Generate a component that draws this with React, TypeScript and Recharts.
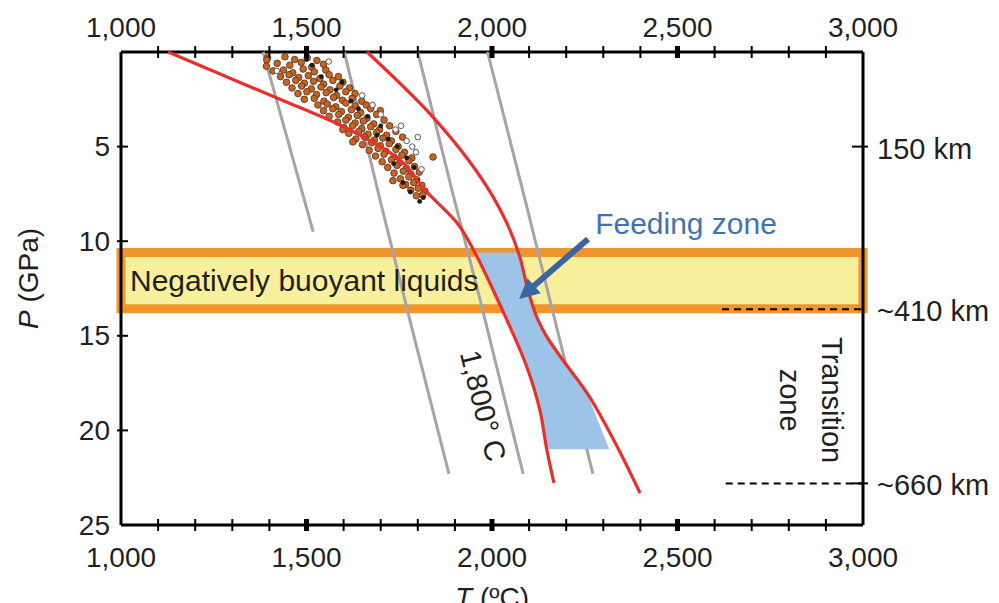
import React from "react"
import { ComposedChart, ReferenceArea, Scatter, XAxis, YAxis } from "recharts"

// axis ticks
const tTicks = [1000, 1100, 1200, 1300, 1400, 1500, 1600, 1700, 1800, 1900, 2000, 2100, 2200, 2300, 2400, 2500, 2600, 2700, 2800, 2900, 3000]
const pTicks = [5, 10, 15, 20, 25]
const depthTicks = [5, 13.6, 22.8]
const depthLabels = ["150 km", "~410 km", "~660 km"]

// melting curves [T, P]
const solidusLeft = [
  [1127, 0], [1420, 2.43], [1590, 3.86], [1752, 5.71], [1819, 7.29], [1906, 9.04],
  [1960, 10.83], [2003, 12.58], [2040, 14.16], [2094, 16.65], [2129, 18.92], [2148, 21.04], [2167, 22.78],
]
const solidusRight = [
  [1663, 0], [1841, 3.44], [2003, 7.66], [2040, 9.04], [2075, 10.83], [2097, 12.58], [2124, 14.16],
  [2148, 15.06], [2191, 16.28], [2256, 18.02], [2318, 20.14], [2399, 23.31],
]

// adiabats
const adiabat1 = [[1383, 0], [1450, 4.7], [1518, 9.5]]
const adiabat2 = [[1602, 0], [1698, 7.8], [1779, 14.2], [1884, 22.3]]
const adiabat3 = [[1800, 0], [1892, 7.3], [1968, 13.1], [2084, 22.3]]
const adiabat4 = [[1988, 0], [2089, 7.8], [2156, 13.1], [2272, 22.3]]

const feedingZone = [
  [1955, 10.6], [2003, 12.58], [2040, 14.16], [2094, 16.65], [2129, 18.92], [2146, 21.0],
  [2316, 21.0], [2256, 18.02], [2191, 16.28], [2148, 15.06], [2124, 14.16], [2097, 12.58], [2078, 10.6],
]

const orangeDots = [
  [1395, 0.3], [1442, 0.25], [1468, 0.4], [1502, 0.3], [1528, 0.45], [1393, 0.42],
  [1392, 0.75], [1421, 0.6], [1455, 0.7], [1486, 0.55], [1514, 0.8], [1546, 0.65],
  [1410, 1.0], [1438, 0.95], [1463, 1.1], [1491, 0.9], [1521, 1.05], [1552, 0.95],
  [1430, 1.3], [1453, 1.2], [1479, 1.35], [1505, 1.25], [1536, 1.4], [1561, 1.2], [1586, 1.3],
  [1446, 1.6], [1471, 1.5], [1494, 1.65], [1519, 1.55], [1546, 1.7], [1571, 1.5], [1598, 1.6],
  [1461, 1.9], [1487, 1.8], [1513, 1.95], [1539, 1.85], [1563, 2.0], [1590, 1.8], [1616, 1.9],
  [1477, 2.2], [1501, 2.1], [1527, 2.25], [1553, 2.15], [1581, 2.3], [1606, 2.1], [1631, 2.2],
  [1494, 2.5], [1521, 2.45], [1547, 2.6], [1573, 2.4], [1597, 2.55], [1623, 2.45], [1649, 2.6],
  [1531, 2.8], [1556, 2.75], [1579, 2.9], [1606, 2.7], [1631, 2.85], [1661, 2.8],
  [1546, 3.1], [1571, 3.0], [1594, 3.15], [1621, 3.05], [1646, 3.2], [1673, 3.0], [1699, 3.1],
  [1561, 3.4], [1587, 3.3], [1613, 3.45], [1637, 3.35], [1663, 3.5], [1689, 3.3],
  [1584, 3.7], [1606, 3.6], [1631, 3.75], [1654, 3.65], [1681, 3.8], [1709, 3.6],
  [1601, 4.0], [1624, 3.9], [1649, 4.05], [1673, 3.95], [1697, 4.1], [1724, 3.9],
  [1614, 4.3], [1641, 4.2], [1666, 4.35], [1689, 4.25], [1716, 4.4], [1741, 4.2],
  [1633, 4.6], [1657, 4.5], [1683, 4.65], [1706, 4.55], [1729, 4.7], [1759, 4.5],
  [1651, 4.9], [1676, 4.8], [1699, 4.95], [1723, 4.85], [1747, 5.0],
  [1669, 5.2], [1693, 5.1], [1714, 5.25], [1741, 5.15], [1764, 5.3],
  [1686, 5.5], [1709, 5.4], [1736, 5.55], [1757, 5.45], [1784, 5.6],
  [1704, 5.8], [1729, 5.7], [1751, 5.85], [1776, 5.75],
  [1719, 6.1], [1744, 6.0], [1769, 6.15], [1791, 6.05],
  [1736, 6.4], [1761, 6.3], [1781, 6.45], [1804, 6.35],
  [1753, 6.7], [1776, 6.6], [1797, 6.75],
  [1767, 7.0], [1789, 6.9], [1811, 7.05],
  [1781, 7.3], [1801, 7.2], [1819, 7.35],
  [1796, 7.6], [1813, 7.55],
  [1625, 4.75], [1598, 4.1], [1733, 6.8], [1760, 7.05], [1841, 5.55],
]
const blackDots = [
  [1500, 0.4], [1540, 1.3], [1580, 2.0], [1620, 2.6], [1665, 3.4], [1700, 3.9], [1720, 4.6],
  [1745, 5.0], [1770, 5.6], [1790, 6.1], [1800, 6.8], [1815, 7.7], [1760, 6.9], [1690, 4.4],
  [1640, 3.0], [1596, 1.6], [1515, 0.7], [1735, 5.9], [1780, 7.4], [1805, 7.9],
]
const openDots = [
  [1420, 1.0], [1560, 0.5], [1650, 2.3], [1700, 3.3], [1740, 4.1], [1770, 4.7],
  [1795, 5.3], [1810, 6.2], [1785, 5.0], [1678, 2.8], [1755, 3.9], [1800, 4.5],
]

const band = { pTop: 10.6, pBottom: 13.57 }
const discont410 = [[2620, 13.6], [3000, 13.6]]
const discont660 = [[2630, 22.8], [3000, 22.8]]
const feedingArrow = [[2259, 9.88], [2073, 13.05]]
const feedingLabel = [{ t: 2523, p: 9.04, text: "Feeding zone" }]
const adiabatLabel = [{ t: 1976, p: 18.7, text: "1,800° C" }]
const transitionLabel = [{ t: 2860, p: 18.4, text: "Transition", text2: "zone" }]

const toPts = (arr: number[][]) => arr.map(([t, p]) => ({ t, p }))

const FONT = "'Liberation Sans', Arial, Helvetica, sans-serif"
const INK = "#231f20"
const RED = "#e8312a"
const GRAY = "#a5a5a5"

const noShape = () => <g />

const XTick = (side: "top" | "bottom") => (props: any) => {
  const { x, y, payload } = props
  const v = payload.value
  const major = v % 500 === 0
  const edge = v === 1000 || v === 3000
  return (
    <g>
      {!edge && <line x1={x} x2={x} y1={y - 6} y2={y + 6} stroke="#000" strokeWidth={major ? 5 : 2} />}
      {major && (
        <text x={x} y={side === "top" ? y - 25 : y + 32} textAnchor="middle" dominantBaseline="central" fontSize={28} fill={INK} fontFamily={FONT}>
          {v.toLocaleString("en-US")}
        </text>
      )}
    </g>
  )
}

const LeftTick = (props: any) => {
  const { x, y, payload } = props
  return (
    <g>
      {payload.value !== 25 && <line x1={x - 4} x2={x + 7} y1={y} y2={y} stroke="#000" strokeWidth={2} />}
      <text x={x - 11} y={y} textAnchor="end" dominantBaseline="central" fontSize={28} fill={INK} fontFamily={FONT}>
        {payload.value}
      </text>
    </g>
  )
}

const RightTick = (props: any) => {
  const { x, y, payload } = props
  const i = depthTicks.indexOf(payload.value)
  return (
    <g>
      {i !== 1 && <line x1={x - 11} x2={x + 5} y1={y} y2={y} stroke="#000" strokeWidth={2} />}
      <text x={x + 14} y={y + 2} textAnchor="start" dominantBaseline="central" fontSize={29} fill={INK} fontFamily={FONT}>
        {depthLabels[i]}
      </text>
    </g>
  )
}

const polygonLine = (props: any) => (
  <polygon points={props.points.map((p: any) => `${p.x},${p.y}`).join(" ")} fill="#9dc3e8" stroke="none" />
)

const arrowLine = (props: any) => {
  const [a, b] = props.points
  const dx = b.x - a.x
  const dy = b.y - a.y
  const len = Math.hypot(dx, dy)
  const ux = dx / len
  const uy = dy / len
  const headLen = 20
  const headW = 10
  const bx = b.x - ux * headLen
  const by = b.y - uy * headLen
  return (
    <g>
      <line x1={a.x} y1={a.y} x2={bx + ux * 2} y2={by + uy * 2} stroke="#3b64a0" strokeWidth={6} />
      <polygon
        points={`${b.x},${b.y} ${bx - uy * headW},${by + ux * headW} ${bx + uy * headW},${by - ux * headW}`}
        fill="#3b64a0"
      />
    </g>
  )
}

const feedingText = (props: any) => (
  <text x={props.cx} y={props.cy} textAnchor="middle" dominantBaseline="central" fontSize={30} fill="#4372b0" fontFamily={FONT}>
    {props.payload.text}
  </text>
)

const adiabatText = (props: any) => (
  <text
    x={props.cx}
    y={props.cy}
    transform={`rotate(76 ${props.cx} ${props.cy})`}
    textAnchor="middle"
    dominantBaseline="central"
    fontSize={29}
    fill={INK}
    fontFamily={FONT}
  >
    {props.payload.text}
  </text>
)

const transitionText = (props: any) => (
  <g transform={`rotate(90 ${props.cx} ${props.cy})`}>
    <text x={props.cx} y={props.cy - 21} textAnchor="middle" dominantBaseline="central" fontSize={29} fill={INK} fontFamily={FONT}>
      {props.payload.text}
    </text>
    <text x={props.cx} y={props.cy + 21} textAnchor="middle" dominantBaseline="central" fontSize={29} fill={INK} fontFamily={FONT}>
      {props.payload.text2}
    </text>
  </g>
)

const dashLine = { stroke: "#000", strokeWidth: 2, strokeDasharray: "7 5" }
const axisLine = { stroke: "#000", strokeWidth: 3 }
const ids = { xAxisId: "bottom", yAxisId: "left" }
const ids2 = { xAxisId: "top", yAxisId: "right" }

export default function App() {
  return (
    <div style={{ position: "absolute", left: 0, top: 0, width: 999, height: 603, background: "#fff" }}>
      <ComposedChart width={999} height={603} margin={{ top: 0, right: 0, bottom: 0, left: 0 }} style={{ fontFamily: FONT }}>
        <XAxis
          xAxisId="bottom"
          type="number"
          dataKey="t"
          domain={[1000, 3000]}
          ticks={tTicks}
          interval={0}
          orientation="bottom"
          height={78}
          axisLine={axisLine}
          tickLine={false}
          tickSize={0}
          tickMargin={0}
          tick={XTick("bottom")}
          label={(p: any) => {
            const vb = p.viewBox
            return (
              <text x={vb.x + vb.width / 2} y={vb.y + 82} textAnchor="middle" fontSize={28} fill={INK} fontFamily={FONT}>
                <tspan fontStyle="italic">T</tspan> (ºC)
              </text>
            )
          }}
        />
        <XAxis
          xAxisId="top"
          type="number"
          dataKey="t"
          domain={[1000, 3000]}
          ticks={tTicks}
          interval={0}
          orientation="top"
          height={52}
          axisLine={axisLine}
          tickLine={false}
          tickSize={0}
          tickMargin={0}
          tick={XTick("top")}
        />
        <YAxis
          yAxisId="left"
          type="number"
          dataKey="p"
          domain={[0, 25]}
          reversed
          ticks={pTicks}
          interval={0}
          width={121}
          axisLine={axisLine}
          tickLine={false}
          tickSize={0}
          tickMargin={0}
          tick={LeftTick}
          label={(p: any) => {
            const vb = p.viewBox
            const cx = 28
            const cy = vb.y + vb.height / 2 - 10
            return (
              <text x={cx} y={cy} transform={`rotate(-90 ${cx} ${cy})`} textAnchor="middle" dominantBaseline="central" fontSize={28} fill={INK} fontFamily={FONT}>
                <tspan fontStyle="italic">P</tspan> (GPa)
              </text>
            )
          }}
        />
        <YAxis
          yAxisId="right"
          type="number"
          dataKey="p"
          domain={[0, 25]}
          reversed
          orientation="right"
          ticks={depthTicks}
          interval={0}
          width={136}
          axisLine={axisLine}
          tickLine={false}
          tickSize={0}
          tickMargin={0}
          tick={RightTick}
        />

        <ReferenceArea
          {...ids}
          x1={1000}
          x2={3000}
          y1={band.pTop}
          y2={band.pBottom}
          fill="#f8f09c"
          fillOpacity={1}
          stroke="#f0952c"
          strokeWidth={9}
          label={{ value: "Negatively buoyant liquids", position: "insideLeft", offset: 9, fontSize: 30, fill: INK, fontFamily: FONT }}
        />

        <Scatter {...ids2} data={toPts(discont410)} shape={noShape} line={dashLine} isAnimationActive={false} />
        <Scatter {...ids2} data={toPts(discont660)} shape={noShape} line={dashLine} isAnimationActive={false} />

        {[adiabat1, adiabat2, adiabat3, adiabat4].map((a, i) => (
          <Scatter key={"ad" + i} {...ids} data={toPts(a)} shape={noShape} line={{ stroke: GRAY, strokeWidth: 3 }} lineJointType="monotoneY" isAnimationActive={false} />
        ))}

        <Scatter {...ids} data={toPts(feedingZone)} shape={noShape} line={polygonLine} isAnimationActive={false} />

        <Scatter {...ids} data={toPts(orangeDots)} shape={(p: any) => <circle cx={p.cx} cy={p.cy} r={3.3} fill="#c96322" stroke="#5a3a22" strokeWidth={0.9} />} isAnimationActive={false} />
        <Scatter {...ids} data={toPts(blackDots)} shape={(p: any) => <circle cx={p.cx} cy={p.cy} r={2.4} fill="#1a1a1a" />} isAnimationActive={false} />
        <Scatter {...ids} data={toPts(openDots)} shape={(p: any) => <circle cx={p.cx} cy={p.cy} r={2.8} fill="#fff" stroke="#555" strokeWidth={1} />} isAnimationActive={false} />

        <Scatter {...ids} data={toPts(solidusLeft)} shape={noShape} line={{ stroke: RED, strokeWidth: 3.2 }} lineJointType="monotoneY" isAnimationActive={false} />
        <Scatter {...ids} data={toPts(solidusRight)} shape={noShape} line={{ stroke: RED, strokeWidth: 3.2 }} lineJointType="monotoneY" isAnimationActive={false} />

        <Scatter {...ids} data={toPts(feedingArrow)} shape={noShape} line={arrowLine} isAnimationActive={false} />
        <Scatter {...ids} data={feedingLabel} shape={feedingText} isAnimationActive={false} />
        <Scatter {...ids} data={adiabatLabel} shape={adiabatText} isAnimationActive={false} />
        <Scatter {...ids} data={transitionLabel} shape={transitionText} isAnimationActive={false} />
      </ComposedChart>
    </div>
  )
}
